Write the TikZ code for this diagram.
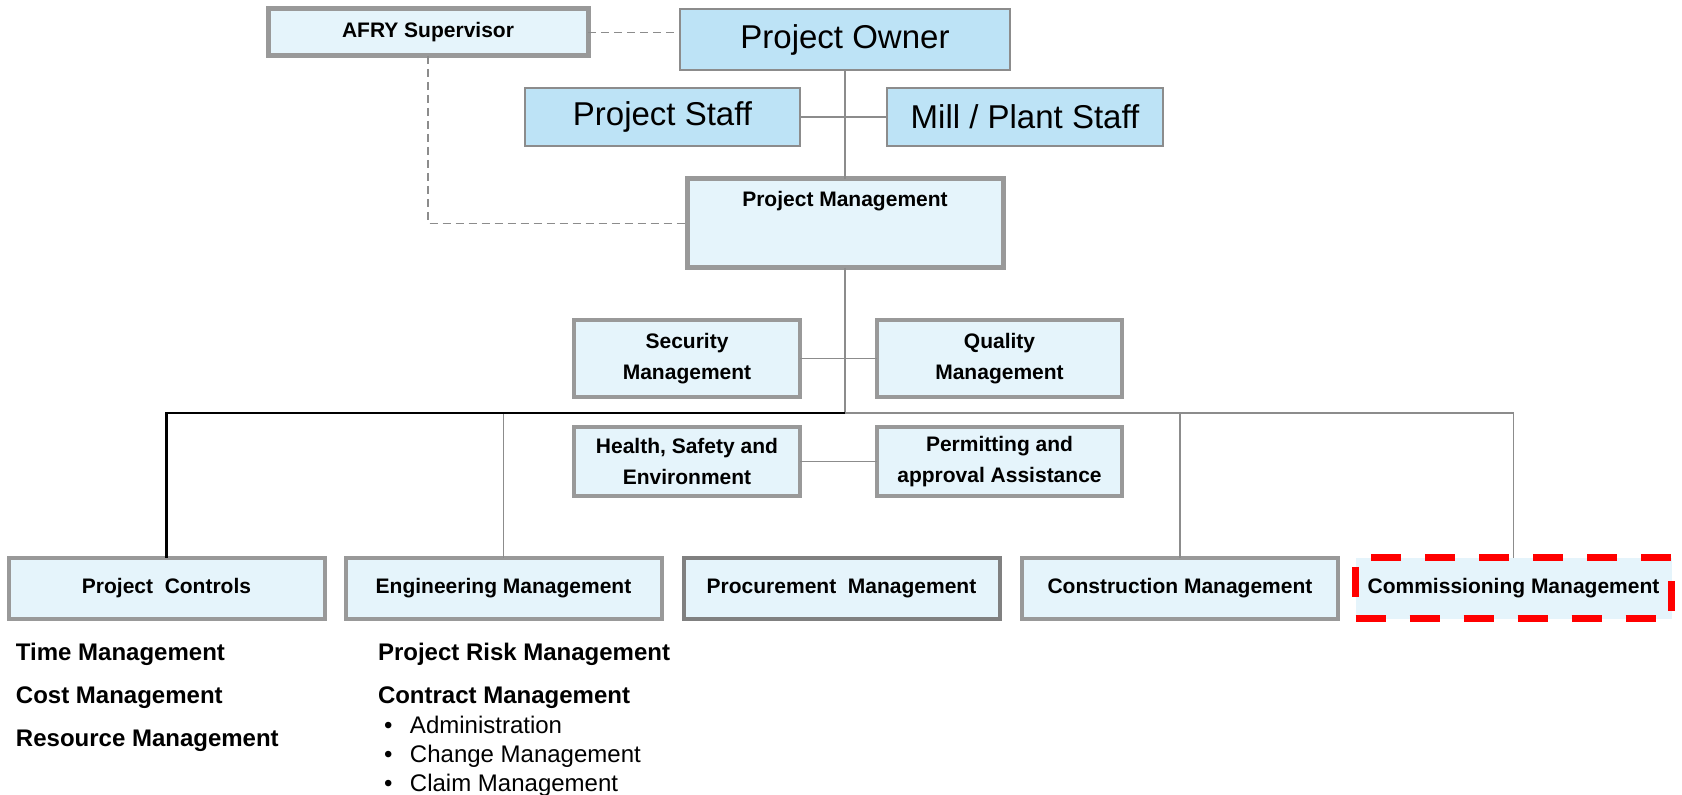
\documentclass[tikz,border=0pt]{standalone}
\usepackage{fontspec}
\setmainfont{Liberation Sans}
\usepackage{xcolor}
\usepackage{tikz}
\definecolor{ownerblue}{HTML}{BDE3F6}
\definecolor{paleblue}{HTML}{E5F4FB}
\definecolor{framegray}{HTML}{999999}
\definecolor{darkframe}{HTML}{808080}
\definecolor{linkgray}{HTML}{8C8C8C}

\begin{document}
\begin{tikzpicture}[x=0.5pt,y=-0.5pt,
    every node/.style={inner sep=0pt,outer sep=0pt},
    owner/.style={draw=linkgray,fill=ownerblue,line width=0.75pt,
        minimum height=29pt,font=\fontsize{16.5}{19}\selectfont},
    lead/.style={draw=framegray,fill=paleblue,line width=2.5pt,
        font=\bfseries\fontsize{10.5}{15.5}\selectfont},
    staffunit/.style={draw=framegray,fill=paleblue,line width=1.75pt,
        minimum height=38.5pt,align=center,
        font=\bfseries\fontsize{10.5}{15.5}\selectfont},
    dept/.style={draw=framegray,fill=paleblue,line width=2pt,
        minimum width=158pt,minimum height=30.5pt,
        font=\bfseries\fontsize{10.5}{15.5}\selectfont},
    link/.style={draw=linkgray,line width=0.8pt},
    dashlink/.style={draw=linkgray,line width=0.8pt,dash pattern=on 4pt off 2.5pt},
    tasks/.style={anchor=north west,align=left,font=\fontsize{12}{14.5}\selectfont},
    ]
\useasboundingbox (0,0) rectangle (1682,795);

% top
\node[lead,minimum width=160pt,minimum height=23.5pt] (afry) at (428,32.5) {AFRY Supervisor};
\node[owner,minimum width=165pt,minimum height=30.5pt] (own) at (845,39.5) {Project Owner};
\node[owner,minimum width=137.5pt] (staff) at (662.5,117) {Project Staff};
\node[owner,minimum width=138pt] (mill) at (1025,117) {Mill / Plant Staff};
\node[lead,minimum width=158pt,minimum height=44.5pt,
    label={[anchor=base,yshift=-14pt,font=\bfseries\fontsize{10.5}{15.5}\selectfont]north:Project Management}]
    (pm) at (845,223.5) {};

% staff functions
\node[staffunit,minimum width=113pt] (sec) at (687,358.5) {Security\\Management};
\node[staffunit,minimum width=122.5pt] (qual) at (999.5,358.5) {Quality\\Management};
\node[staffunit,minimum width=113pt,minimum height=34.5pt] (hse) at (687,461.5) {Health, Safety and\\Environment};
\node[staffunit,minimum width=122.5pt,minimum height=34.5pt] (perm) at (999.5,461.5) {Permitting and\\approval Assistance};

% departments
\node[dept] (pc) at (166.5,588.5) {Project~~Controls};
\node[dept] (eng) at (503.5,588.5) {Engineering Management};
\node[dept,draw=darkframe] (proc) at (841.5,588.5) {Procurement~~Management};
\node[dept] (cons) at (1180,588.5) {Construction Management};
\node[dept,draw=red,line width=3.5pt,dash pattern=on 15pt off 12pt] (comm) at (1513.5,588.5) {Commissioning Management};

\coordinate (bus) at (845,413);

% lists
\node[tasks] (pctasks) at (16,643) {\textbf{Time Management}\\[7pt]
    \textbf{Cost Management}\\[7pt]
    \textbf{Resource Management}};
\node[tasks] (engtasks) at (378,643) {\textbf{Project Risk Management}\\[7pt]
    \textbf{Contract Management}\\[0.5pt]
    \hspace{3pt}\makebox[13pt][l]{\textbullet}Administration\\
    \hspace{3pt}\makebox[13pt][l]{\textbullet}Change Management\\
    \hspace{3pt}\makebox[13pt][l]{\textbullet}Claim Management};

% lines
\draw[dashlink] (afry.east) -- (afry.east -| own.west);
\draw[dashlink] (afry.south) |- (pm.west);
\draw[link] (own.south) -- (pm.north);
\draw[link] (staff) -- (mill);
\draw[link] (sec) -- (qual);
\draw[link] (hse) -- (perm);
\draw[link] (bus) -| (comm.north);
\draw[link] (eng.north) -- (eng.north |- bus);
\draw[link] (cons.north) -- (cons.north |- bus);
\draw[link] (pm.south) -- (bus);
\draw[black,line width=1.2pt] (bus) -| (pc.north);
\end{tikzpicture}
\end{document}
